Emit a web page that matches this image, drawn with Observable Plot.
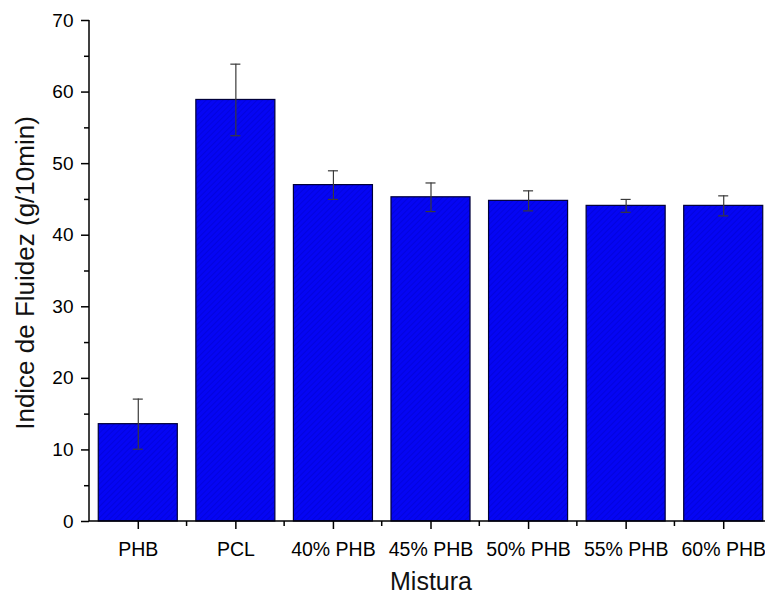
<!DOCTYPE html>
<html>
<head>
<meta charset="utf-8">
<script src="https://cdn.jsdelivr.net/npm/d3@7"></script>
<script src="https://cdn.jsdelivr.net/npm/@observablehq/plot@0.6"></script>
<style>
  html, body { margin: 0; padding: 0; background: #fff; overflow: hidden; }
  #wrap { width: 765px; height: 599px; overflow: hidden; }
  #wrap svg { max-width: none !important; }
</style>
</head>
<body>
<svg width="0" height="0" style="position:absolute">
  <defs>
    <pattern id="hatch" patternUnits="userSpaceOnUse" width="4" height="4" patternTransform="rotate(45)">
      <rect width="4" height="4" fill="#0505f4"></rect>
      <line x1="0" y1="0" x2="0" y2="4" stroke="#0000cc" stroke-width="1.1"></line>
    </pattern>
  </defs>
</svg>
<div id="wrap"></div>
<script>
const categories = ["PHB", "PCL", "40% PHB", "45% PHB", "50% PHB", "55% PHB", "60% PHB"];
const values = [13.6, 58.9, 47.0, 45.3, 44.8, 44.1, 44.1];
const errors = [3.5, 5.0, 2.0, 2.0, 1.4, 0.9, 1.4];
const yTicks = [0, 10, 20, 30, 40, 50, 60, 70];
const yMinorTicks = [5, 15, 25, 35, 45, 55, 65];

const data = categories.map((c, i) => ({cat: c, v: values[i], e: errors[i]}));

const font = "'Liberation Sans', Arial, sans-serif";

const axisLines = (index, scales, values, dims) => {
  const g = d3.create("svg:g");
  const x0 = dims.marginLeft, y0 = dims.marginTop, y1 = dims.height - dims.marginBottom;
  g.append("line").attr("x1", x0).attr("x2", x0).attr("y1", y0).attr("y2", y1)
    .attr("stroke", "#000").attr("stroke-width", 1.5);
  g.append("line").attr("x1", x0).attr("x2", dims.width - dims.marginRight).attr("y1", y1).attr("y2", y1)
    .attr("stroke", "#000").attr("stroke-width", 1.5);
  const xs = scales.x;
  const step = xs.step ? xs.step() : (dims.width - dims.marginLeft - dims.marginRight) / categories.length;
  const bw = xs.bandwidth ? xs.bandwidth() : 0;
  categories.slice(0, -1).forEach(c => {
    const xb = xs(c) + bw / 2 + step / 2;
    g.append("line").attr("x1", xb).attr("x2", xb).attr("y1", y1).attr("y2", y1 + 5)
      .attr("stroke", "#000").attr("stroke-width", 1.5);
  });
  return g.node();
};

const chart = Plot.plot({
  width: 772,
  height: 599,
  marginLeft: 89,
  marginRight: 0,
  marginTop: 20,
  marginBottom: 78,
  style: {fontFamily: font, background: "#fff", overflow: "visible"},
  x: {domain: categories, paddingInner: 0.19, paddingOuter: 0.095, align: 0.5, round: false, label: null},
  y: {domain: [0, 70], label: null},
  marks: [
    Plot.barY(data, {x: "cat", y: "v", fill: "url(#hatch)", stroke: "#00003a", strokeWidth: 1.2}),
    Plot.ruleX(data, {x: "cat", y1: d => d.v - d.e, y2: d => d.v + d.e, stroke: "#3a3a3a", strokeWidth: 1.2}),
    Plot.tickY(data, {x: "cat", y: d => d.v + d.e, stroke: "#3a3a3a", strokeWidth: 1.2, insetLeft: 34.5, insetRight: 34.5}),
    Plot.tickY(data, {x: "cat", y: d => d.v - d.e, stroke: "#3a3a3a", strokeWidth: 1.2, insetLeft: 34.5, insetRight: 34.5}),
    Plot.axisY({ticks: yTicks, tickSize: 8, tickPadding: 8, fontSize: 19, tickFormat: d => d, label: null, stroke: "#000", strokeWidth: 1.5}),
    Plot.axisY({ticks: yMinorTicks, tickSize: 5, text: null, label: null, stroke: "#000", strokeWidth: 1.5}),
    Plot.axisX({tickSize: 8, tickPadding: 13, fontSize: 19.5, label: null, stroke: "#000", strokeWidth: 1.5}),
    axisLines,
    Plot.text(["Mistura"], {frameAnchor: "bottom", dy: 60, lineAnchor: "middle", textAnchor: "middle", fontSize: 25, fill: "#111", text: d => d}),
    Plot.text(["Indice de Fluidez (g/10min)"], {frameAnchor: "left", dx: -64, dy: 2, rotate: -90, textAnchor: "middle", lineAnchor: "middle", fontSize: 26, fill: "#111", text: d => d})
  ]
});
document.getElementById("wrap").appendChild(chart);
</script>
</body>
</html>
